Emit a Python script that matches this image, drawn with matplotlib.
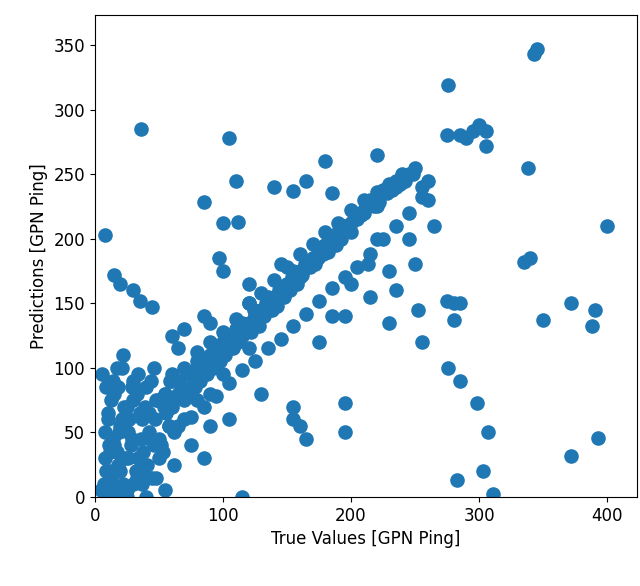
import matplotlib.pyplot as plt

# true values vs predictions
true_vals = [
    # dense low cluster
    5, 8, 10, 12, 14, 15, 18, 20, 22, 25, 28, 30, 32, 35, 38, 40, 42, 45, 48, 50,
    6, 9, 11, 13, 16, 19, 21, 24, 27, 29, 33, 36, 39, 41, 44, 47, 52, 55, 58, 60,
    7, 10, 14, 17, 20, 23, 26, 31, 34, 37, 43, 46, 49, 53, 56, 59, 62, 65, 8, 12,
    15, 18, 22, 26, 30, 34, 38, 42, 46, 50, 54, 58, 9, 13, 17, 21, 25, 29, 33, 37,
    # main diagonal band
    60, 65, 70, 72, 75, 78, 80, 82, 85, 88, 90, 92, 95, 98, 100, 102, 105, 108, 110, 112,
    115, 118, 120, 122, 125, 128, 130, 132, 135, 138, 140, 142, 145, 148, 150, 152, 155, 158, 160, 162,
    165, 168, 170, 172, 175, 178, 180, 182, 185, 188, 190, 192, 195, 198, 200, 202, 205, 208, 210, 212,
    215, 218, 220, 222, 225, 228, 230, 232, 235, 238, 240, 242, 245, 248, 70, 80, 90, 100, 110, 120,
    130, 140, 150, 160, 170, 180, 190, 200, 210, 220, 75, 85, 95, 105, 115, 125, 135, 145, 155, 165,
    175, 185, 195, 205, 215, 225, 235, 62, 68, 74, 84, 94, 104, 114, 124, 134, 144, 154, 164, 174,
    # band thickening
    60, 70, 80, 90, 100, 110, 120, 130, 140, 150, 160, 170, 180, 190, 200, 210, 220, 230, 240, 250,
    65, 75, 85, 95, 105, 115, 125, 135, 145, 155, 165, 175, 185, 195, 205, 215, 225, 235, 245, 255,
    55, 68, 78, 88, 98, 108, 118, 128, 138, 148, 158, 168, 178, 188, 198, 208, 218, 228, 238, 260,
    # outliers
    36, 105, 110, 85, 100, 112, 8, 35, 45, 20, 15, 30, 276, 343, 345, 300, 305, 305, 285, 275,
    290, 295, 338, 335, 340, 372, 390, 388, 400, 350, 275, 280, 285, 280, 276, 285, 298, 307, 303, 283,
    311, 372, 393, 195, 195, 155, 160, 165, 155, 115, 255, 252, 230, 235, 215, 200, 195, 185, 175, 145,
    155, 165, 180, 140, 185, 220, 240, 255, 260, 265, 245, 250, 230, 220, 213, 97, 100, 120, 120, 60,
    65, 70, 80, 85, 90, 25, 40, 55, 10, 18, 30, 48, 62, 75, 90, 105, 130, 85, 12, 22,
]
predictions = [
    5, 30, 60, 15, 45, 80, 25, 55, 10, 70, 40, 90, 20, 65, 35, 85, 50, 15, 75, 45,
    95, 20, 40, 75, 5, 50, 100, 30, 60, 85, 15, 45, 70, 25, 90, 60, 40, 80, 55, 95,
    10, 65, 90, 35, 20, 70, 50, 85, 30, 60, 45, 100, 75, 35, 65, 90, 50, 80, 50, 20,
    40, 85, 55, 30, 75, 95, 20, 65, 40, 30, 70, 55, 85, 15, 100, 60, 5, 45, 80, 10,
    70, 90, 75, 95, 80, 85, 100, 90, 105, 95, 110, 100, 115, 105, 120, 110, 125, 115, 130, 120,
    125, 130, 135, 128, 140, 132, 145, 140, 150, 145, 155, 148, 160, 155, 165, 160, 170, 165, 175, 172,
    180, 178, 185, 180, 190, 188, 195, 190, 200, 195, 205, 200, 210, 208, 212, 215, 218, 220, 222, 225,
    228, 230, 232, 228, 238, 235, 240, 238, 245, 242, 248, 245, 250, 250, 60, 75, 80, 95, 120, 115,
    140, 150, 165, 170, 185, 195, 200, 205, 220, 225, 85, 100, 110, 125, 135, 140, 155, 160, 175, 180,
    190, 200, 210, 215, 230, 235, 240, 75, 80, 95, 100, 110, 115, 130, 145, 150, 160, 170, 180, 185,
    90, 100, 112, 120, 128, 138, 150, 158, 168, 178, 188, 196, 205, 212, 222, 230, 236, 242, 250, 255,
    55, 62, 70, 78, 88, 98, 105, 115, 122, 132, 142, 152, 162, 170, 178, 188, 200, 210, 220, 232,
    80, 85, 95, 102, 112, 122, 132, 140, 152, 162, 172, 182, 190, 198, 208, 218, 225, 238, 244, 245,
    285, 278, 245, 228, 212, 213, 203, 152, 147, 165, 172, 160, 319, 343, 347, 288, 283, 272, 280, 280,
    278, 283, 255, 182, 185, 150, 145, 132, 210, 137, 152, 150, 150, 137, 100, 90, 73, 50, 20, 13,
    2, 32, 46, 73, 50, 70, 55, 45, 60, 0, 120, 145, 135, 160, 155, 165, 140, 140, 120, 180,
    237, 245, 260, 240, 235, 265, 245, 240, 230, 210, 200, 180, 175, 200, 180, 185, 175, 165, 150, 125,
    115, 130, 105, 140, 135, 0, 0, 5, 0, 0, 10, 15, 25, 40, 55, 60, 80, 30, 35, 110,
]

fig, ax = plt.subplots(figsize=(6.4, 5.86), dpi=100)
ax.scatter(true_vals, predictions, s=90, color='#1f77b4')
ax.set_xlim(0, 423)
ax.set_ylim(0, 373)
ax.set_xticks([0, 100, 200, 300, 400])
ax.set_yticks([0, 50, 100, 150, 200, 250, 300, 350])
ax.tick_params(labelsize=12)
ax.set_xlabel('True Values [GPN Ping]', fontsize=12)
ax.set_ylabel('Predictions [GPN Ping]', fontsize=12)
fig.subplots_adjust(left=0.148, right=0.995, bottom=0.152, top=0.974)
fig.savefig('out.png')
